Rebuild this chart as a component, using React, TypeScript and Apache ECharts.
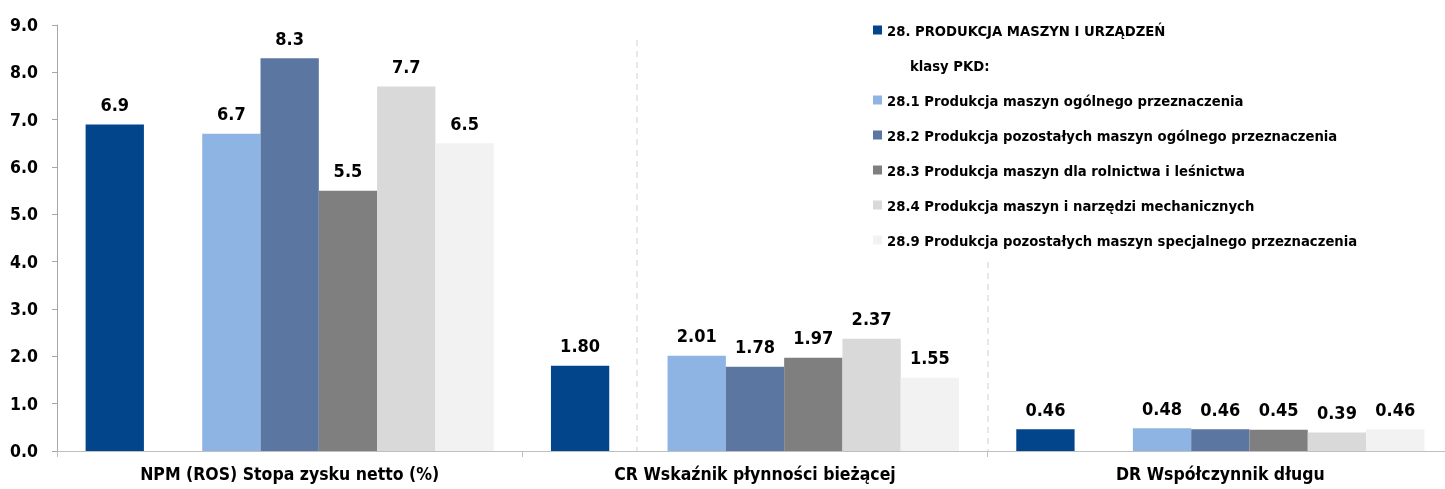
import React, { useEffect, useRef } from "react";
import * as echarts from "echarts";

const categories = [
  "NPM (ROS) Stopa zysku netto (%)",
  "CR Wskaźnik płynności bieżącej",
  "DR Współczynnik długu",
];
const seriesNames = [
  "28. PRODUKCJA MASZYN I URZĄDZEŃ",
  "klasy PKD:",
  "28.1 Produkcja maszyn ogólnego przeznaczenia",
  "28.2 Produkcja pozostałych maszyn ogólnego przeznaczenia",
  "28.3 Produkcja maszyn dla rolnictwa i leśnictwa",
  "28.4 Produkcja maszyn i narzędzi mechanicznych",
  "28.9 Produkcja pozostałych maszyn specjalnego przeznaczenia",
];
const v28 = [6.9, 1.8, 0.46];
const vGap = [null, null, null];
const v281 = [6.7, 2.01, 0.48];
const v282 = [8.3, 1.78, 0.46];
const v283 = [5.5, 1.97, 0.45];
const v284 = [7.7, 2.37, 0.39];
const v289 = [6.5, 1.55, 0.46];
const seriesValues = [v28, vGap, v281, v282, v283, v284, v289];
const colors = ["#02458B", "rgba(0,0,0,0)", "#8EB4E3", "#5B77A1", "#7F7F7F", "#D9D9D9", "#F2F2F2"];
const yTicks = [0, 9, 1];

const FONT = "'DejaVu Sans Condensed', 'DejaVu Sans', sans-serif";

export default function App() {
  const ref = useRef<HTMLDivElement>(null);
  useEffect(() => {
    if (!ref.current) return;
    const chart = echarts.init(ref.current, null, { renderer: "svg" });
    const series = seriesNames.map((name, i) => ({
      name,
      type: "bar" as const,
      data: seriesValues[i],
      barGap: "0%",
      barCategoryGap: "12.3%",
      itemStyle: { color: colors[i] },
      label: {
        show: i !== 1,
        position: "top" as const,
        distance: 11,
        color: "#000",
        fontFamily: FONT,
        fontWeight: "bold" as const,
        fontSize: 18,
        formatter: (p: any) =>
          p.value == null ? "" : p.dataIndex === 0 ? Number(p.value).toFixed(1) : Number(p.value).toFixed(2),
      },
    }));
    chart.setOption({
      animation: false,
      textStyle: { fontFamily: FONT },
      grid: { left: 57, top: 25, width: 1396, height: 426, containLabel: false, outerBoundsMode: "none" },
      legend: {
        orient: "vertical",
        left: 868,
        top: 15,
        itemWidth: 9,
        itemHeight: 9,
        itemGap: 15,
        data: seriesNames.map((n, i) =>
          i === 1 ? { name: n, icon: "none" } : { name: n, icon: "rect" }
        ),
        formatter: (name: string) => (name === "klasy PKD:" ? "{ind|" + name + "}" : name),
        textStyle: {
          fontFamily: FONT,
          fontSize: 14.7,
          lineHeight: 20,
          fontWeight: "bold",
          color: "#000",
          rich: {
            ind: {
              fontFamily: FONT,
              fontSize: 14.7,
              lineHeight: 20,
              fontWeight: "bold",
              color: "#000",
              padding: [0, 0, 0, 23],
            },
          },
        },
      },
      xAxis: {
        type: "category",
        data: categories,
        axisLine: { lineStyle: { color: "#BFBFBF" } },
        axisTick: { show: true, length: 6, lineStyle: { color: "#BFBFBF" } },
        axisLabel: {
          margin: 14,
          color: "#000",
          fontFamily: FONT,
          fontWeight: "bold",
          fontSize: 17.5,
        },
      },
      yAxis: {
        type: "value",
        min: yTicks[0],
        max: yTicks[1],
        interval: yTicks[2],
        splitLine: { show: false },
        axisLine: { show: true, lineStyle: { color: "#A6A6A6" } },
        axisTick: { show: true, length: 5, lineStyle: { color: "#A6A6A6" } },
        axisLabel: {
          margin: 19,
          color: "#000",
          fontFamily: FONT,
          fontWeight: "bold",
          fontSize: 17.5,
          formatter: (v: number) => v.toFixed(1),
        },
      },
      graphic: [
        {
          type: "line",
          shape: { x1: 637, y1: 40, x2: 637, y2: 451 },
          style: { stroke: "#D0D0D0", lineWidth: 1, lineDash: [6, 5] },
          silent: true,
        },
        {
          type: "line",
          shape: { x1: 988, y1: 262, x2: 988, y2: 451 },
          style: { stroke: "#D0D0D0", lineWidth: 1, lineDash: [6, 5] },
          silent: true,
        },
      ],
      series,
    });
    return () => chart.dispose();
  }, []);
  return (
    <div
      ref={ref}
      style={{ position: "fixed", left: 0, top: 0, width: 1445, height: 489 }}
    />
  );
}
